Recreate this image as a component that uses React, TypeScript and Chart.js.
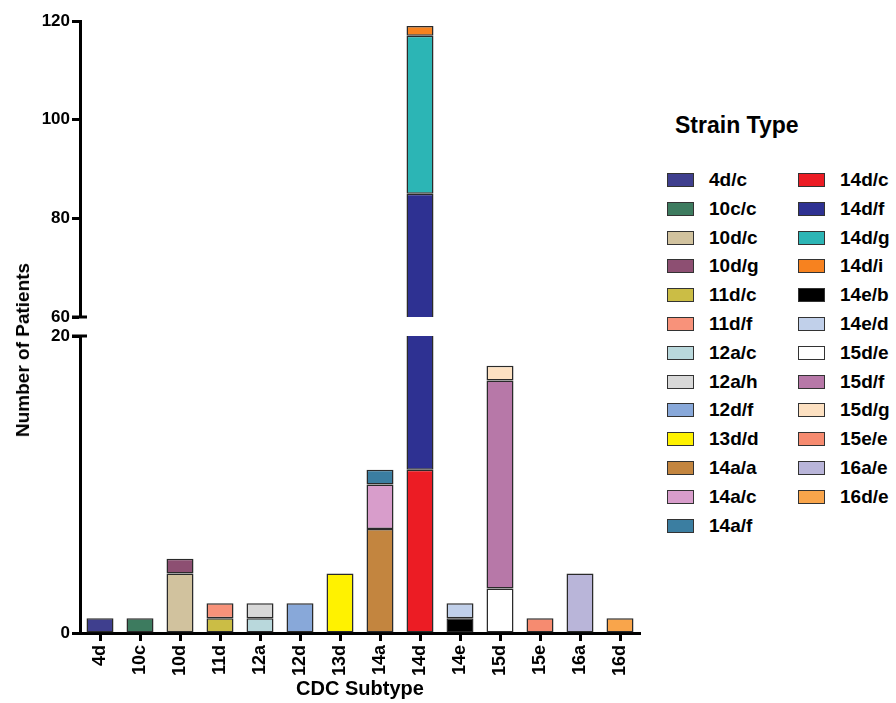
import React, { useEffect, useRef } from 'react';
import { Chart, registerables } from 'chart.js';
Chart.register(...registerables);

const categories = ['4d', '10c', '10d', '11d', '12a', '12d', '13d', '14a', '14d', '14e', '15d', '15e', '16a', '16d'];
const strainNames = ['4d/c', '10c/c', '10d/c', '10d/g', '11d/c', '11d/f', '12a/c', '12a/h', '12d/f', '13d/d', '14a/a', '14a/c', '14a/f', '14d/c', '14d/f', '14d/g', '14d/i', '14e/b', '14e/d', '15d/e', '15d/f', '15d/g', '15e/e', '16a/e', '16d/e'];
const strainSubtype = ['4d', '10c', '10d', '10d', '11d', '11d', '12a', '12a', '12d', '13d', '14a', '14a', '14a', '14d', '14d', '14d', '14d', '14e', '14e', '15d', '15d', '15d', '15e', '16a', '16d'];
const strainCounts = [1, 1, 4, 1, 1, 1, 1, 1, 2, 4, 7, 3, 1, 11, 74, 32, 2, 1, 1, 3, 14, 1, 1, 4, 1];
const strainColors = ['#3f3f8e', '#3d7b5f', '#d1c29e', '#8d4f72', '#cbbd45', '#f8927a', '#b9d8dc', '#d8d8d8', '#88a8d9', '#fff200', '#c3853f', '#d89dcb', '#3b7ea1', '#ec1c24', '#2e3192', '#2cb5b5', '#f7821f', '#000000', '#c1d0ea', '#ffffff', '#b778a8', '#fde1c2', '#f68b70', '#b9b5d9', '#f9a54b'];
const lowerRange = [0, 20];
const upperRange = [60, 120];
const tickStep = 20;
const legendColumn1Count = 13;

const FONT = '"Liberation Sans", Arial, Helvetica, sans-serif';

function buildDatasets() {
  return strainNames.map((name, i) => ({
    label: name,
    data: categories.map((c) => (c === strainSubtype[i] ? strainCounts[i] : null)),
    backgroundColor: strainColors[i],
    borderColor: '#2a2a2a',
    borderWidth: 1.5,
    borderSkipped: false,
    barPercentage: 0.675,
    categoryPercentage: 1,
    clip: 0,
  }));
}

const breakMark = (where: 'top' | 'bottom') => ({
  id: 'breakMark' + where,
  afterDraw(chart: any) {
    const { ctx, chartArea } = chart;
    const y = where === 'bottom' ? chartArea.bottom : chartArea.top;
    ctx.save();
    ctx.strokeStyle = '#000';
    ctx.lineWidth = 3;
    ctx.beginPath();
    ctx.moveTo(chartArea.left - 8, y);
    ctx.lineTo(chartArea.left + 7, y);
    ctx.stroke();
    ctx.restore();
  },
});

function makeOptions(range: number[], showX: boolean, padding: any) {
  const x: any = {
    display: showX,
    stacked: true,
    offset: true,
    grid: { display: true, drawOnChartArea: false, offset: false, tickLength: 8, tickWidth: 3, tickColor: '#000' },
    border: { display: true, color: '#000', width: 3 },
    ticks: { color: '#000', font: { family: FONT, size: 18, weight: 'bold' }, minRotation: 90, maxRotation: 90, padding: 4, autoSkip: false },
    title: { display: true, text: 'CDC Subtype', color: '#000', font: { family: FONT, size: 20, weight: 'bold' }, padding: { top: 0, bottom: 2 } },
  };
  if (showX) {
    x.afterFit = (scale: any) => { scale.height = 70; };
  }
  return {
    animation: false,
    responsive: false,
    maintainAspectRatio: false,
    layout: { padding },
    plugins: { legend: { display: false }, tooltip: { enabled: false } },
    scales: {
      x,
      y: {
        stacked: true,
        min: range[0],
        max: range[1],
        grid: { display: true, drawOnChartArea: false, tickLength: 8, tickWidth: 3, tickColor: '#000' },
        border: { display: true, color: '#000', width: 3 },
        ticks: { stepSize: tickStep, color: '#000', font: { family: FONT, size: 17, weight: 'bold' }, padding: 2 },
        afterFit: (scale: any) => { scale.width = 80; },
      },
    },
  };
}

export default function App() {
  const upperRef = useRef<HTMLCanvasElement>(null);
  const lowerRef = useRef<HTMLCanvasElement>(null);

  useEffect(() => {
    const upper = new Chart(upperRef.current as HTMLCanvasElement, {
      type: 'bar',
      data: { labels: categories, datasets: buildDatasets() as any },
      options: makeOptions(upperRange, false, { top: 21, bottom: 13, left: 0, right: 20 }) as any,
      plugins: [breakMark('bottom')],
    });
    const lower = new Chart(lowerRef.current as HTMLCanvasElement, {
      type: 'bar',
      data: { labels: categories, datasets: buildDatasets() as any },
      options: makeOptions(lowerRange, true, { top: 16, bottom: 0, left: 0, right: 20 }) as any,
      plugins: [breakMark('top')],
    });
    return () => {
      upper.destroy();
      lower.destroy();
    };
  }, []);

  const legendItem = (i: number) => {
    const col = i < legendColumn1Count ? 0 : 1;
    const row = col === 0 ? i : i - legendColumn1Count;
    const cy = 180 + row * 28.8;
    const boxLeft = col === 0 ? 667 : 798;
    return (
      <div key={strainNames[i]} style={{ position: 'absolute', left: boxLeft, top: cy - 14, height: 28, display: 'flex', alignItems: 'center' }}>
        <div style={{ width: 25, height: 12, background: strainColors[i], border: '1px solid #333' }} />
        <span style={{ marginLeft: 15, font: `bold 19px ${FONT}`, color: '#000', lineHeight: '28px', whiteSpace: 'nowrap' }}>{strainNames[i]}</span>
      </div>
    );
  };

  return (
    <div style={{ position: 'absolute', left: 0, top: 0, width: 896, height: 703, background: '#fff', overflow: 'hidden' }}>
      <canvas ref={upperRef} width={660} height={330} style={{ position: 'absolute', left: 0, top: 0, width: 660, height: 330 }} />
      <canvas ref={lowerRef} width={660} height={383} style={{ position: 'absolute', left: 0, top: 320, width: 660, height: 383 }} />
      <div style={{ position: 'absolute', left: 23, top: 350, transform: 'translate(-50%, -50%) rotate(-90deg)', font: `bold 19px ${FONT}`, color: '#000', whiteSpace: 'nowrap' }}>Number of Patients</div>
      <div style={{ position: 'absolute', left: 675, top: 112, font: `bold 23px ${FONT}`, lineHeight: '26px', color: '#000', whiteSpace: 'nowrap' }}>Strain Type</div>
      {strainNames.map((_, i) => legendItem(i))}
    </div>
  );
}
